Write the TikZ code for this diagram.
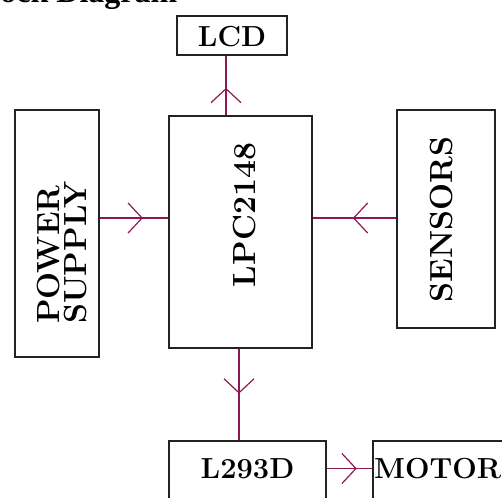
\documentclass[tikz,border=0pt]{standalone}
\usepackage{fontspec}
\newfontfamily\titlefont{Liberation Serif}
\usetikzlibrary{arrows.meta,decorations.markings,calc}
\definecolor{wire}{RGB}{140,25,85}
\definecolor{edge}{RGB}{35,35,35}
\begin{document}
\begin{tikzpicture}[x=1pt,y=-1pt,
  blk/.style={draw=edge,line width=1.6pt,rectangle,inner sep=0pt,fill=white},
  lbl/.style={font=\fontsize{29}{27}\selectfont\bfseries,inner sep=0pt},
  rlbl/.style={font=\fontsize{32}{27}\selectfont\bfseries,inner sep=0pt,rotate=90},
  conn/.style={draw=wire,line width=1.3pt,postaction={decorate},
    decoration={markings,mark=at position #1 with {\arrow{Straight Barb[length=14pt,width=30pt,line width=1.2pt]}}}}]
\useasboundingbox (0,0) rectangle (502,497);
\clip (0,0) rectangle (502,497);
% title
\node[anchor=base west,inner sep=0pt,font=\titlefont\bfseries\fontsize{32}{36}\selectfont] (title) at (-30,3) {Block Diagram};
% blocks
\node[blk,minimum width=110pt,minimum height=39pt] (lcd) at (232,35.5) {};
\node[lbl] (lcdt) at (232,37) {LCD};
\node[blk,minimum width=143pt,minimum height=232pt] (lpc) at (240.5,232) {};
\node[rlbl] (lpct) at (245,215) {LPC2148};
\node[blk,minimum width=84pt,minimum height=247pt] (ps) at (57,233.5) {};
\node[rlbl,align=left] (pst) at (62,252.5) {POWER\\SUPPLY};
\node[blk,minimum width=98pt,minimum height=218pt] (sens) at (446,219) {};
\node[rlbl] (senst) at (442,219.5) {SENSORS};
\node[blk,minimum width=157pt,minimum height=80pt] (l293) at (247.5,481) {};
\node[lbl] (l293t) at (247.5,468.5) {L293D};
\node[blk,minimum width=160pt,minimum height=80pt] (motor) at (453,481) {};
\node[lbl,anchor=west] (motort) at (374,468.5) {MOTOR};
% connectors
\draw[conn=0.46] ([xshift=-6pt]lcd.south |- lpc.north) -- ([xshift=-6pt]lcd.south);
\draw[conn=0.63] ([yshift=15.5pt]ps.east) -- ([yshift=15.5pt]ps.east -| lpc.west);
\draw[conn=0.52] ([yshift=1pt]sens.west) -- ([yshift=1pt]sens.west -| lpc.east);
\draw[conn=0.49] ([xshift=-1.5pt]lpc.south) -- ([xshift=-1.5pt]lpc.south |- l293.north);
\draw[conn=0.66] (l293t.center -| l293.east) -- (l293t.center -| motor.west);
\end{tikzpicture}
\end{document}
